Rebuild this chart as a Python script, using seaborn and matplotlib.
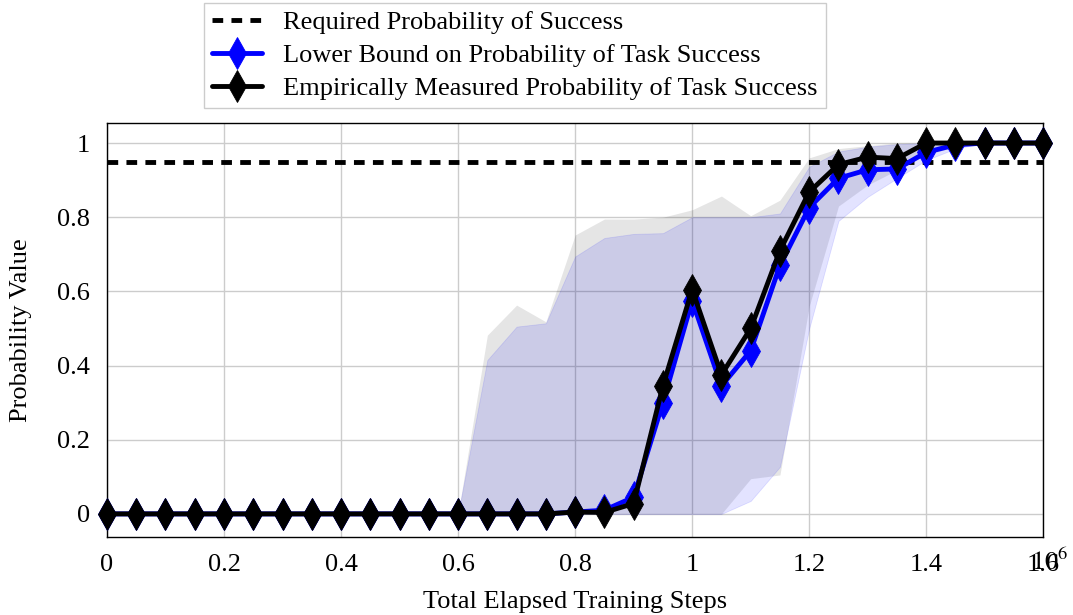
import numpy as np
import pandas as pd
import matplotlib
matplotlib.use("Agg")
import matplotlib.pyplot as plt
import seaborn as sns
from matplotlib.ticker import FuncFormatter

# training steps (one evaluation every 50k steps)
steps = [0, 50000, 100000, 150000, 200000, 250000, 300000, 350000, 400000, 450000,
         500000, 550000, 600000, 650000, 700000, 750000, 800000, 850000, 900000, 950000,
         1000000, 1050000, 1100000, 1150000, 1200000, 1250000, 1300000, 1350000, 1400000,
         1450000, 1500000, 1550000, 1600000]

required_prob = 0.95

# lower bound on probability of task success (blue)
lower_bound = [0, 0, 0, 0, 0, 0, 0, 0, 0, 0, 0, 0, 0, 0, 0, 0,
               0.005, 0.01, 0.045, 0.30, 0.575, 0.345, 0.44, 0.67, 0.826, 0.905,
               0.928, 0.93, 0.975, 0.995, 1.0, 1.0, 1.0]
lb_low = [0, 0, 0, 0, 0, 0, 0, 0, 0, 0, 0, 0, 0, 0, 0, 0,
          0, 0, 0, 0, 0, 0, 0.035, 0.127, 0.50, 0.79,
          0.855, 0.905, 0.954, 0.985, 1.0, 1.0, 1.0]
lb_high = [0, 0, 0, 0, 0, 0, 0, 0, 0, 0, 0, 0, 0, 0.415, 0.505, 0.514,
           0.694, 0.744, 0.755, 0.757, 0.80, 0.80, 0.80, 0.81, 0.936, 0.977,
           0.99, 0.997, 1.0, 1.0, 1.0, 1.0, 1.0]

# empirically measured probability of task success (black)
empirical = [0, 0, 0, 0, 0, 0, 0, 0, 0, 0, 0, 0, 0, 0, 0, 0,
             0.005, 0.004, 0.028, 0.345, 0.605, 0.375, 0.50, 0.71, 0.868, 0.942,
             0.962, 0.958, 1.0, 1.0, 1.0, 1.0, 1.0]
emp_low = [0, 0, 0, 0, 0, 0, 0, 0, 0, 0, 0, 0, 0, 0, 0, 0,
           0, 0, 0, 0, 0, 0, 0.095, 0.105, 0.56, 0.83,
           0.887, 0.927, 0.968, 0.99, 1.0, 1.0, 1.0]
emp_high = [0, 0, 0, 0, 0, 0, 0, 0, 0, 0, 0, 0, 0, 0.482, 0.563, 0.518,
            0.752, 0.795, 0.795, 0.80, 0.82, 0.857, 0.804, 0.846, 0.96, 0.985,
            0.993, 1.0, 1.0, 1.0, 1.0, 1.0, 1.0]

df = pd.DataFrame({"steps": steps, "lower_bound": lower_bound, "empirical": empirical})

sns.set_style("whitegrid")
plt.rcParams["font.family"] = ["Liberation Serif", "DejaVu Serif"]
plt.rcParams["mathtext.fontset"] = "stix"
plt.rcParams["text.color"] = "black"
plt.rcParams["axes.labelcolor"] = "black"
plt.rcParams["xtick.color"] = "black"
plt.rcParams["ytick.color"] = "black"

FS = 19

fig = plt.figure(figsize=(10.73, 6.15), dpi=100)
ax = fig.add_axes([0.0997, 0.127, 0.8726, 0.673])

ax.fill_between(df["steps"], emp_low, emp_high, color="black", alpha=0.1, lw=0, zorder=1)
ax.fill_between(df["steps"], lb_low, lb_high, color="blue", alpha=0.11, lw=0.6,
                edgecolor=(0, 0, 1, 0.15), zorder=1)

ax.axhline(required_prob, color="black", lw=3.5, linestyle=(0, (2.2, 1.7)),
           label="Required Probability of Success", zorder=3)

sns.lineplot(data=df, x="steps", y="lower_bound", ax=ax, color="blue", lw=3.5,
             marker="d", markersize=16, markeredgecolor="blue", markeredgewidth=0.6,
             label="Lower Bound on Probability of Task Success", zorder=4, clip_on=False)
sns.lineplot(data=df, x="steps", y="empirical", ax=ax, color="black", lw=3.5,
             marker="d", markersize=16, markeredgecolor="black", markeredgewidth=0.6,
             label="Empirically Measured Probability of Task Success", zorder=5, clip_on=False)

ax.set_xlim(0, 1600000)
ax.set_ylim(-0.062, 1.054)
ax.set_xticks(np.arange(0, 1600001, 200000))
ax.set_yticks([0, 0.2, 0.4, 0.6, 0.8, 1.0])
ax.xaxis.set_major_formatter(FuncFormatter(lambda v, p: "%g" % (v / 1e6)))
ax.yaxis.set_major_formatter(FuncFormatter(lambda v, p: "%g" % v))
ax.tick_params(axis="both", labelsize=FS, direction="out", length=7, width=1,
               color="#888888", pad=5)
ax.grid(True, color="#cccccc", lw=1.0)
ax.set_axisbelow(True)
for s in ax.spines.values():
    s.set_color("black")
    s.set_linewidth(1.0)

ax.set_xlabel("Total Elapsed Training Steps", fontsize=FS, labelpad=11)
ax.set_ylabel("Probability Value", fontsize=FS, labelpad=18)

# multiplier shown at the end of the x axis
fig.text(0.978, 0.086, r"$10^{6}$", fontsize=FS, ha="center", va="center")

handles, labels = ax.get_legend_handles_labels()
ax.get_legend().remove()
leg = fig.legend(handles, labels, loc="upper center", bbox_to_anchor=(0.48, 1.0),
                 fontsize=FS, frameon=True, fancybox=False, framealpha=1,
                 edgecolor="#cccccc", handlelength=1.9, borderpad=0.3,
                 labelspacing=0.37, handletextpad=0.8, borderaxespad=0.1)
leg.get_frame().set_linewidth(1.0)

fig.savefig("out.png", dpi=100)
